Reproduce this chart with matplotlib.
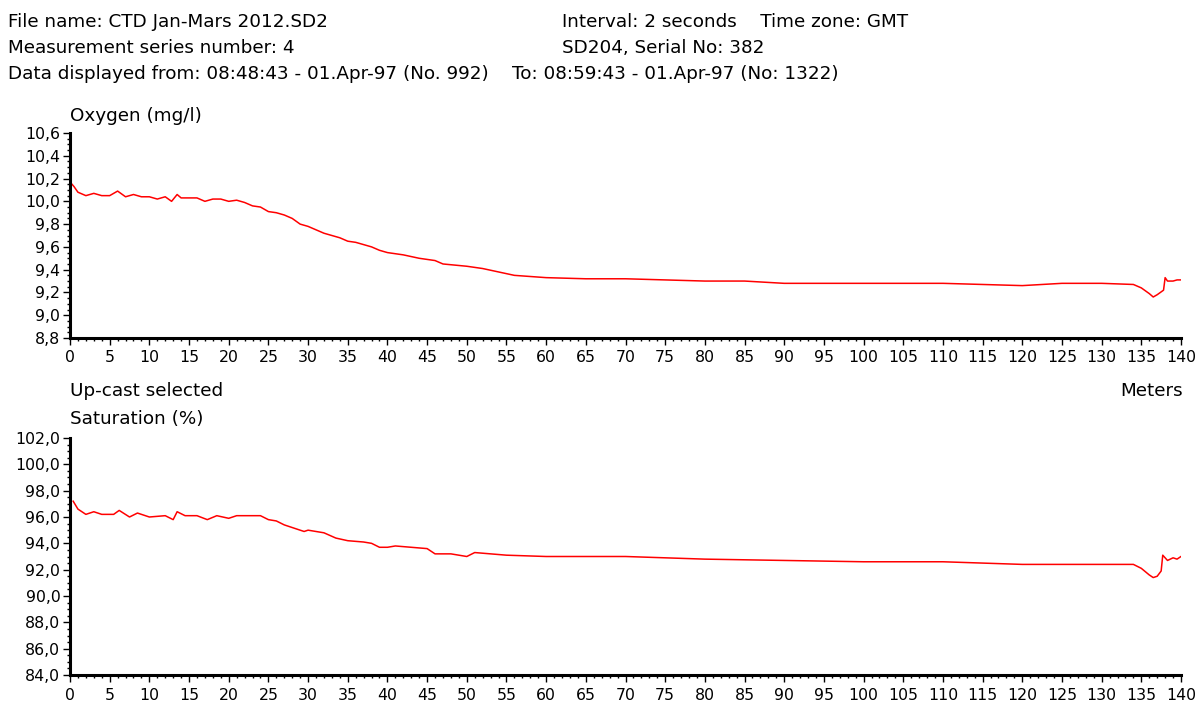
import matplotlib
matplotlib.use("Agg")
import matplotlib.pyplot as plt
from matplotlib.ticker import MultipleLocator, FuncFormatter

plt.rcParams['font.family'] = ['DejaVu Sans']

# depth (m) / oxygen (mg/l), up-cast
oxy_depth = [0, 0.5, 1, 2, 3, 4, 5, 6, 7, 8, 9, 10, 11, 12, 12.8, 13.5, 14,
             16, 17, 18, 19, 20, 21, 22, 23, 24, 25, 26, 27, 28, 29, 30, 31,
             32, 33, 34, 35, 36, 37, 38, 39, 40, 42, 44, 46, 47, 50, 52, 54,
             56, 58, 60, 65, 70, 75, 80, 85, 90, 95, 100, 105, 110, 115, 120,
             125, 130, 134, 135, 136, 136.5, 137, 137.8, 138, 138.3, 139,
             139.5, 140]
oxygen = [10.17, 10.13, 10.08, 10.05, 10.07, 10.05, 10.05, 10.09, 10.04,
          10.06, 10.04, 10.04, 10.02, 10.04, 10.00, 10.06, 10.03, 10.03,
          10.00, 10.02, 10.02, 10.00, 10.01, 9.99, 9.96, 9.95, 9.91, 9.90,
          9.88, 9.85, 9.80, 9.78, 9.75, 9.72, 9.70, 9.68, 9.65, 9.64, 9.62,
          9.60, 9.57, 9.55, 9.53, 9.50, 9.48, 9.45, 9.43, 9.41, 9.38, 9.35,
          9.34, 9.33, 9.32, 9.32, 9.31, 9.30, 9.30, 9.28, 9.28, 9.28, 9.28,
          9.28, 9.27, 9.26, 9.28, 9.28, 9.27, 9.24, 9.19, 9.16, 9.18, 9.22,
          9.33, 9.30, 9.30, 9.31, 9.31]

# depth (m) / oxygen saturation (%)
sat_depth = [0.4, 1, 2, 3, 4, 5.5, 6.2, 7.5, 8.5, 10, 12, 13, 13.5, 14.5, 16,
             17.3, 18.5, 20, 21, 24, 25, 26, 27, 28, 29.5, 30, 32, 33.5, 35,
             37, 38, 39, 40, 41, 45, 46, 48, 50, 51, 55, 60, 70, 80, 90, 100,
             110, 120, 125, 130, 134, 135, 136, 136.5, 137, 137.5, 137.7,
             138.3, 139, 139.5, 140]
saturation = [97.2, 96.6, 96.2, 96.4, 96.2, 96.2, 96.5, 96.0, 96.3, 96.0,
              96.1, 95.8, 96.4, 96.1, 96.1, 95.8, 96.1, 95.9, 96.1, 96.1,
              95.8, 95.7, 95.4, 95.2, 94.9, 95.0, 94.8, 94.4, 94.2, 94.1,
              94.0, 93.7, 93.7, 93.8, 93.6, 93.2, 93.2, 93.0, 93.3, 93.1,
              93.0, 93.0, 92.8, 92.7, 92.6, 92.6, 92.4, 92.4, 92.4, 92.4,
              92.1, 91.6, 91.4, 91.5, 91.9, 93.1, 92.7, 92.9, 92.8, 93.0]

x_ticks = list(range(0, 141, 5))

header_left = ["File name: CTD Jan-Mars 2012.SD2",
               "Measurement series number: 4",
               "Data displayed from: 08:48:43 - 01.Apr-97 (No. 992)"]
header_right = ["Interval: 2 seconds    Time zone: GMT",
                "SD204, Serial No: 382"]
header_to = "To: 08:59:43 - 01.Apr-97 (No: 1322)"

FS = 13.2        # header / axis titles
FS_TICK = 11.3   # tick labels
comma = FuncFormatter(lambda v, p: f"{v:.1f}".replace(".", ","))


def style_axis(ax, ymin, ymax, ymajor, yminor):
    for s in ("top", "right"):
        ax.spines[s].set_visible(False)
    for s in ("left", "bottom"):
        ax.spines[s].set_linewidth(2.2)
        ax.spines[s].set_color("black")
    ax.set_xlim(0, 140)
    ax.set_ylim(ymin, ymax)
    ax.set_xticks(x_ticks)
    ax.xaxis.set_minor_locator(MultipleLocator(1))
    ax.yaxis.set_major_locator(MultipleLocator(ymajor))
    ax.yaxis.set_minor_locator(MultipleLocator(yminor))
    ax.yaxis.set_major_formatter(comma)
    ax.tick_params(which="major", direction="out", length=5, width=1,
                   labelsize=FS_TICK, pad=2)
    ax.tick_params(which="minor", direction="out", length=2.5, width=1)
    ax.tick_params(axis="x", which="major", pad=4)


fig = plt.figure(figsize=(11.98, 7.04), dpi=100)
W, H = 1198, 704

ax1 = fig.add_axes([70 / W, 1 - 338 / H, 1111 / W, 205 / H])
ax1.plot(oxy_depth, oxygen, color="#ff0000", lw=1.1)
style_axis(ax1, 8.8, 10.6, 0.2, 0.05)

ax2 = fig.add_axes([70 / W, 1 - 675 / H, 1111 / W, 237 / H])
ax2.plot(sat_depth, saturation, color="#ff0000", lw=1.1)
style_axis(ax2, 84, 102, 2, 0.5)

# header block
for i, line in enumerate(header_left):
    fig.text(8 / W, 1 - (22 + 26 * i) / H, line, fontsize=FS, va="center")
for i, line in enumerate(header_right):
    fig.text(562 / W, 1 - (22 + 26 * i) / H, line, fontsize=FS, va="center")
fig.text(512 / W, 1 - 74 / H, header_to, fontsize=FS, va="center")

fig.text(70 / W, 1 - 116 / H, "Oxygen (mg/l)", fontsize=FS, va="center")
fig.text(70 / W, 1 - 391 / H, "Up-cast selected", fontsize=FS, va="center")
fig.text(70 / W, 1 - 419 / H, "Saturation (%)", fontsize=FS, va="center")
fig.text(1183 / W, 1 - 391 / H, "Meters", fontsize=FS, va="center",
         ha="right")

fig.savefig("out.png", dpi=100)
